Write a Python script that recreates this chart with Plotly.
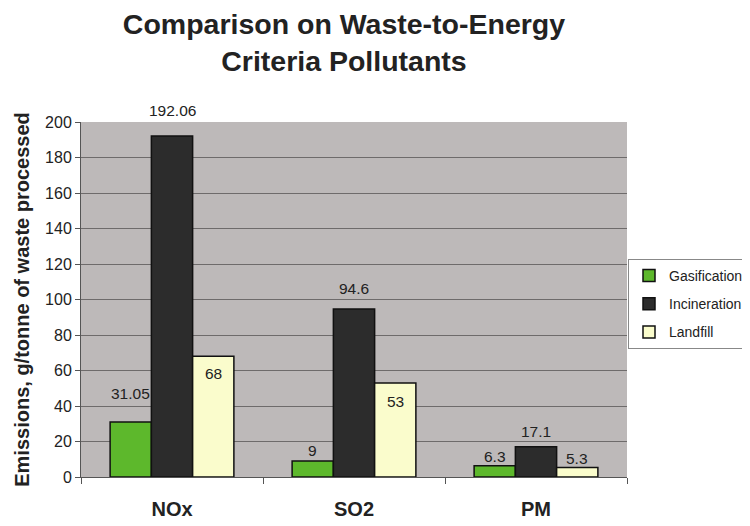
import plotly.graph_objects as go

categories = ["NOx", "SO2", "PM"]
gasification = [31.05, 9, 6.3]
incineration = [192.06, 94.6, 17.1]
landfill = [68, 53, 5.3]
series_names = ["Gasification", "Incineration", "Landfill"]
series_values = [gasification, incineration, landfill]
y_ticks = [0, 20, 40, 60, 80, 100, 120, 140, 160, 180, 200]

# styling
colors = ["#5db82c", "#2c2c2c", "#fafccc"]
# vertical pixel shift of each data label relative to its bar top (as placed in the original)
label_shift = [
    [28, 11, 9],
    [26, 21, 15],
    [-17, -19, 9],
]

# the page adds an 8px body margin, so the figure is sized to fit the 750x526 window
W, H = 742, 518
ML, MR, MT, MB = 73, 123, 114, 49
BARGAP = 0.32
plot_w = W - ML - MR
plot_h = H - MT - MB
bar_px = plot_w / len(categories) * (1 - BARGAP) / len(series_names)

fig = go.Figure()
for name, vals, col in zip(series_names, series_values, colors):
    fig.add_trace(go.Bar(
        x=categories, y=vals, name=name, legendgroup=name,
        marker=dict(color=col, line=dict(color="#111111", width=1.5)),
    ))

annotations = []
for si, vals in enumerate(series_values):
    xs = (si - (len(series_names) - 1) / 2) * bar_px
    for ci, v in enumerate(vals):
        annotations.append(dict(
            x=categories[ci], y=v, xref="x", yref="y",
            text=f"{v:g}", showarrow=False,
            xshift=xs, yshift=label_shift[si][ci],
            xanchor="center", yanchor="middle",
            font=dict(family="Liberation Sans, Arial", size=15.5, color="#222222"),
        ))

fig.update_layout(
    width=W, height=H,
    margin=dict(l=ML, r=MR, t=MT, b=MB, autoexpand=False),
    paper_bgcolor="white",
    plot_bgcolor="#bdb9b9",
    barmode="group",
    bargap=BARGAP,
    bargroupgap=0,
    annotations=annotations,
    title=dict(
        text="<b>Comparison on Waste-to-Energy<br>Criteria Pollutants</b>",
        x=0.4528, xanchor="center", y=0.95, yanchor="top",
        font=dict(family="Liberation Sans, Arial", size=28.5, color="#222222"),
    ),
    font=dict(family="Liberation Sans, Arial", color="#222222"),
    legend=dict(
        x=(620 - ML) / plot_w, y=(MT + plot_h - 251) / plot_h,
        xanchor="left", yanchor="top",
        bgcolor="white", bordercolor="#888888", borderwidth=1,
        font=dict(size=14, color="#222222"),
        tracegroupgap=7,
    ),
    showlegend=True,
)
fig.update_xaxes(
    showline=True, linecolor="#555555", linewidth=1,
    tickfont=dict(size=20, family="Liberation Sans, Arial", color="#222222"),
    tickprefix="<b>", ticksuffix="</b>",
    ticks="outside", ticklen=6, tickcolor="#555555", tickson="boundaries",
    ticklabelstandoff=14,
)
fig.update_yaxes(
    range=[0, 200], tickvals=y_ticks,
    showgrid=True, gridcolor="#6e6b6b", gridwidth=1,
    showline=True, linecolor="#555555", linewidth=1,
    ticks="outside", ticklen=5, tickcolor="#555555",
    tickfont=dict(size=16, color="#222222"),
    title=dict(text="<b>Emissions, g/tonne of waste processed</b>",
               font=dict(size=20, color="#222222"), standoff=10),
    zeroline=False,
)
fig.write_html("out.html")
